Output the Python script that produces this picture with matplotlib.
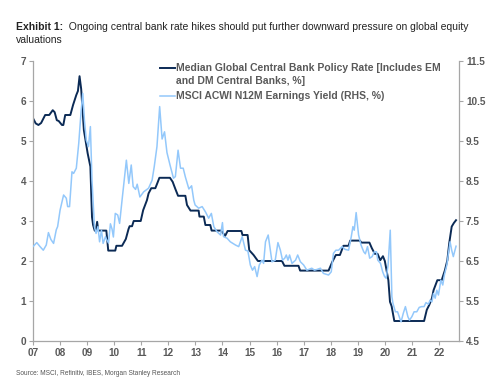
import matplotlib
matplotlib.use("Agg")
import matplotlib.pyplot as plt
from matplotlib.lines import Line2D

plt.rcParams['font.family'] = ['Liberation Sans', 'DejaVu Sans']

# Median global central bank policy rate (LHS, %)
rate_t = [2007.0, 2007.1, 2007.2, 2007.3, 2007.45, 2007.6, 2007.73, 2007.8, 2007.88, 2007.95,
          2008.07, 2008.12, 2008.19, 2008.38, 2008.48, 2008.6, 2008.66, 2008.72, 2008.78, 2008.88,
          2009.02, 2009.12, 2009.18, 2009.22, 2009.28, 2009.32, 2009.37, 2009.41, 2009.71, 2009.78,
          2010.04, 2010.08, 2010.29, 2010.43, 2010.53, 2010.57, 2010.66, 2010.72, 2010.98, 2011.07,
          2011.21, 2011.27, 2011.37, 2011.52, 2011.59, 2011.67, 2012.06, 2012.16, 2012.26, 2012.36,
          2012.63, 2012.69, 2012.82, 2013.12, 2013.15, 2013.31, 2013.37, 2013.55, 2013.6, 2013.95,
          2014.1, 2014.19, 2014.7, 2014.74, 2014.93, 2014.99, 2015.15, 2015.31, 2016.2, 2016.29,
          2016.81, 2016.87, 2017.92, 2018.06, 2018.19, 2018.34, 2018.47, 2018.66, 2018.72, 2019.08,
          2019.13, 2019.43, 2019.52, 2019.63, 2019.73, 2019.83, 2019.93, 2020.0, 2020.13, 2020.19,
          2020.25, 2020.35, 2021.45, 2021.55, 2021.64, 2021.74, 2021.8, 2021.94, 2022.1, 2022.22,
          2022.31, 2022.38, 2022.47, 2022.55, 2022.63]
rate_v = [5.57, 5.44, 5.40, 5.45, 5.65, 5.65, 5.77, 5.72, 5.52, 5.50,
          5.40, 5.40, 5.65, 5.65, 5.90, 6.15, 6.25, 6.62, 6.30, 5.27,
          4.69, 4.36, 3.10, 2.90, 2.76, 2.76, 2.98, 2.76, 2.76, 2.26,
          2.26, 2.38, 2.38, 2.55, 2.80, 2.87, 2.87, 3.00, 3.00, 3.27,
          3.52, 3.69, 3.82, 3.82, 3.94, 4.08, 4.08, 3.98, 3.80, 3.63,
          3.63, 3.40, 3.26, 3.26, 3.11, 3.11, 2.90, 2.90, 2.76, 2.76,
          2.63, 2.75, 2.75, 2.65, 2.65, 2.27, 2.15, 2.00, 2.00, 1.88,
          1.88, 1.76, 1.76, 1.98, 2.15, 2.15, 2.38, 2.38, 2.51, 2.51,
          2.46, 2.46, 2.32, 2.18, 2.18, 2.02, 2.12, 2.00, 1.52, 0.98,
          0.87, 0.50, 0.50, 0.78, 0.90, 1.07, 1.27, 1.52, 1.52, 1.77,
          2.02, 2.45, 2.86, 2.95, 3.02]

# MSCI ACWI N12M earnings yield (RHS, %)
ey_t = [2007.0, 2007.14, 2007.26, 2007.38, 2007.49, 2007.57, 2007.66, 2007.76, 2007.86, 2007.91,
        2008.0, 2008.07, 2008.13, 2008.23, 2008.28, 2008.35, 2008.44, 2008.5, 2008.6, 2008.69,
        2008.78, 2008.84, 2008.9, 2008.97, 2009.05, 2009.12, 2009.18, 2009.24, 2009.27, 2009.33,
        2009.4, 2009.46, 2009.53, 2009.59, 2009.68, 2009.71, 2009.79, 2009.86, 2009.92, 2009.97,
        2010.04, 2010.13, 2010.2, 2010.29, 2010.45, 2010.54, 2010.63, 2010.7, 2010.79, 2010.85,
        2010.95, 2011.09, 2011.27, 2011.4, 2011.48, 2011.58, 2011.68, 2011.77, 2011.86, 2011.95,
        2012.07, 2012.19, 2012.26, 2012.36, 2012.45, 2012.55, 2012.63, 2012.76, 2012.86, 2012.94,
        2012.99, 2013.12, 2013.25, 2013.37, 2013.49, 2013.59, 2013.68, 2013.8, 2013.93, 2014.0,
        2014.04, 2014.17, 2014.29, 2014.48, 2014.6, 2014.73, 2014.85, 2014.94, 2015.03, 2015.11,
        2015.19, 2015.28, 2015.36, 2015.46, 2015.52, 2015.59, 2015.69, 2015.77, 2015.83, 2015.95,
        2016.05, 2016.14, 2016.22, 2016.3, 2016.36, 2016.42, 2016.48, 2016.57, 2016.7, 2016.78,
        2016.88, 2017.0, 2017.12, 2017.3, 2017.4, 2017.5, 2017.62, 2017.73, 2017.92, 2018.02,
        2018.1, 2018.19, 2018.29, 2018.42, 2018.53, 2018.66, 2018.76, 2018.82, 2018.87, 2018.94,
        2019.03, 2019.12, 2019.22, 2019.28, 2019.36, 2019.44, 2019.53, 2019.61, 2019.69, 2019.74,
        2019.84, 2019.92, 2019.99, 2020.05, 2020.12, 2020.2, 2020.26, 2020.3, 2020.39, 2020.47,
        2020.55, 2020.6, 2020.68, 2020.76, 2020.85, 2020.91, 2021.0, 2021.08, 2021.18, 2021.27,
        2021.36, 2021.45, 2021.52, 2021.61, 2021.67, 2021.74, 2021.8, 2021.86, 2021.92, 2021.98,
        2022.07, 2022.14, 2022.2, 2022.29, 2022.35, 2022.41, 2022.47, 2022.53, 2022.63]
ey_v = [6.86, 6.96, 6.86, 6.77, 6.90, 7.21, 7.04, 6.94, 7.28, 7.36,
        7.77, 7.98, 8.15, 8.07, 7.86, 7.86, 8.73, 8.69, 8.82, 9.44,
        10.27, 10.69, 10.02, 9.52, 9.36, 9.86, 8.52, 7.77, 7.36, 7.19,
        7.36, 6.98, 7.27, 6.94, 7.11, 7.05, 6.95, 7.43, 7.30, 7.10,
        7.69, 7.65, 7.44, 8.02, 9.02, 8.44, 8.90, 8.36, 8.29, 8.42,
        8.10, 8.23, 8.32, 8.52, 8.86, 9.36, 10.36, 9.55, 9.73, 9.21,
        8.88, 8.57, 8.61, 9.27, 8.82, 8.82, 8.60, 8.30, 8.38, 8.02,
        7.90, 7.82, 7.86, 7.73, 7.57, 7.69, 7.36, 7.23, 7.15, 7.46,
        7.11, 7.07, 6.98, 6.90, 6.86, 7.11, 6.77, 6.75, 6.40, 6.27,
        6.36, 6.11, 6.40, 6.52, 6.44, 6.98, 7.15, 6.77, 6.48, 6.52,
        6.96, 6.77, 6.52, 6.57, 6.65, 6.52, 6.65, 6.44, 6.52, 6.65,
        6.48, 6.40, 6.27, 6.32, 6.27, 6.29, 6.32, 6.19, 6.15, 6.23,
        6.69, 6.77, 6.77, 6.86, 6.79, 6.77, 7.11, 7.36, 7.27, 7.71,
        7.15, 6.90, 6.73, 6.68, 6.86, 6.57, 6.61, 6.73, 6.73, 6.52,
        6.44, 6.23, 6.11, 6.07, 6.40, 7.27, 5.61, 5.44, 5.23, 5.23,
        5.07, 4.98, 5.19, 5.36, 5.11, 5.02, 5.11, 5.23, 5.23, 5.34,
        5.36, 5.36, 5.46, 5.42, 5.52, 5.48, 5.69, 5.57, 5.77, 5.65,
        6.02, 5.90, 6.15, 6.40, 6.69, 6.98, 6.77, 6.61, 6.87]

year_ticks = list(range(2007, 2023))
year_labels = ['07', '08', '09', '10', '11', '12', '13', '14', '15', '16', '17', '18', '19', '20', '21', '22']
left_ticks = [0, 1, 2, 3, 4, 5, 6, 7]
right_ticks = [4.5, 5.5, 6.5, 7.5, 8.5, 9.5, 10.5, 11.5]

label_rate = ['Median Global Central Bank Policy Rate [Includes EM', 'and DM Central Banks, %]']
label_ey = 'MSCI ACWI N12M Earnings Yield (RHS, %)'

DARK = '#0b2a55'
LIGHT = '#93c8fb'
GREY = '#595959'
SPINE = '#a6a6a6'

W, H = 499, 380
fig = plt.figure(figsize=(W/100, H/100), dpi=100)
ax = fig.add_axes([33/W, 1-341/H, (459-33)/W, (341-61)/H])
ax2 = ax.twinx()

ax.plot(rate_t, rate_v, color=DARK, lw=1.4, solid_joinstyle='round')
ax2.plot(ey_t, ey_v, color=LIGHT, lw=1.1, solid_joinstyle='round')

ax.set_xlim(2007.0, 2022.74)
ax.set_ylim(0, 7)
ax2.set_ylim(4.5, 11.5)
ax.set_xticks(year_ticks)
ax.set_xticklabels(year_labels)
ax.set_yticks(left_ticks)
ax2.set_yticks(right_ticks)
ax2.set_yticklabels([f'{v:.1f}' for v in right_ticks])

for a in (ax, ax2):
    a.spines['top'].set_visible(False)
    for s in ('left', 'right', 'bottom'):
        a.spines[s].set_color(SPINE)
        a.spines[s].set_linewidth(0.9)
    a.tick_params(colors=SPINE, length=3, width=0.8, labelsize=7.2, labelcolor=GREY, pad=2)
    for lab in a.get_xticklabels() + a.get_yticklabels():
        lab.set_fontweight('bold')
ax.spines['right'].set_visible(False)
ax2.spines['left'].set_visible(False)
ax2.spines['bottom'].set_visible(False)

# legend drawn by hand (handle aligned with first text line as in the original)
def fy(py):
    return 1 - py / H

def fx(px):
    return px / W

leg_entries = [(DARK, 1.4, label_rate, 68), (LIGHT, 1.1, [label_ey], 96)]
for color, lw, lines, ypx in leg_entries:
    fig.add_artist(Line2D([fx(160), fx(175)], [fy(ypx), fy(ypx)], color=color, lw=lw,
                          transform=fig.transFigure))
    for i, line in enumerate(lines):
        fig.text(fx(176), fy(ypx + 12.5 * i), line, fontsize=7.5, fontweight='bold',
                 color=GREY, va='center', ha='left')

t1 = fig.text(fx(16), fy(30), 'Exhibit 1:', fontsize=7.45, fontweight='bold', color='#222222', va='baseline')
ax.annotate('  Ongoing central bank rate hikes should put further downward pressure on global equity',
            xy=(1, 0), xycoords=t1, va='bottom', ha='left', fontsize=7.45, color='#222222',
            annotation_clip=False)
fig.text(fx(16), fy(42.7), 'valuations', fontsize=7.45, color='#222222', va='baseline')

fig.text(fx(16), fy(375), 'Source: MSCI, Refinitiv, IBES, Morgan Stanley Research',
         fontsize=4.7, color='#555555', va='baseline')

fig.savefig('out.png', dpi=100)
